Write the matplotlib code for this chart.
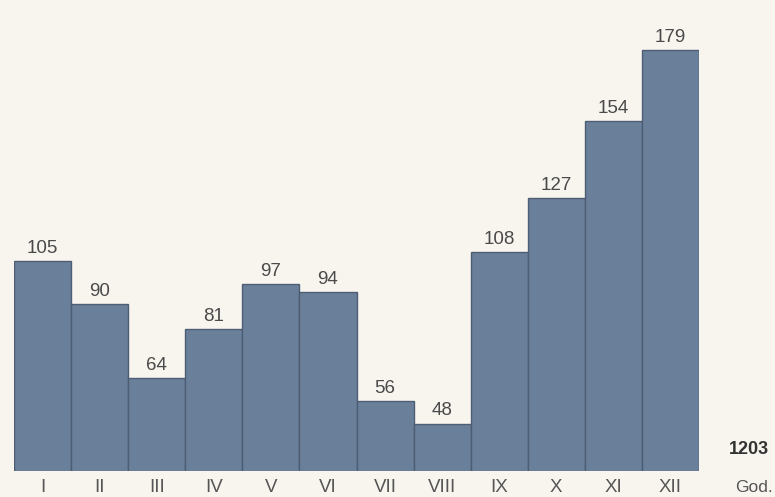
import matplotlib
matplotlib.use("Agg")
import matplotlib.pyplot as plt

plt.rcParams['font.family'] = ['Liberation Sans', 'DejaVu Sans']

# data
months = ["I", "II", "III", "IV", "V", "VI", "VII", "VIII", "IX", "X", "XI", "XII"]
values = [105, 90, 64, 81, 97, 94, 56, 48, 108, 127, 154, 179]
total_label = "1203"
total_caption = "God."

bg = "#f8f5ef"
W, H = 775, 497
fig = plt.figure(figsize=(W / 100, H / 100), dpi=100, facecolor=bg)

# axes placed in pixel units
left, right, bottom, top = 14, 699, 26, 497
ax = fig.add_axes([left / W, bottom / H, (right - left) / W, (top - bottom) / H])
ax.set_facecolor(bg)

x = list(range(len(months)))
ax.bar(x, values, width=1.0, color="#6a7f9a", edgecolor="#4d5d73", linewidth=1.0)

ax.set_xlim(-0.5, len(months) - 0.5)
ax.set_ylim(31.4, 31.4 + (top - bottom) / 2.854)

for xi, v in zip(x, values):
    ax.annotate(str(v), (xi, v), xytext=(0, 3), textcoords="offset points",
                ha="center", va="bottom", fontsize=13.5, color="#4a4a4a")

ax.set_xticks(x)
ax.set_xticklabels(months, fontsize=13.5, color="#555555")
ax.tick_params(axis="x", length=0, pad=6)
ax.set_yticks([])
for s in ax.spines.values():
    s.set_visible(False)

fig.text(749 / W, 1 - 449 / H, total_label, ha="center", va="center",
         fontsize=13, fontweight="bold", color="#333333")
fig.text(754 / W, 1 - 487 / H, total_caption, ha="center", va="center",
         fontsize=12.5, color="#555555")

fig.savefig("out.png", dpi=100, facecolor=bg)
